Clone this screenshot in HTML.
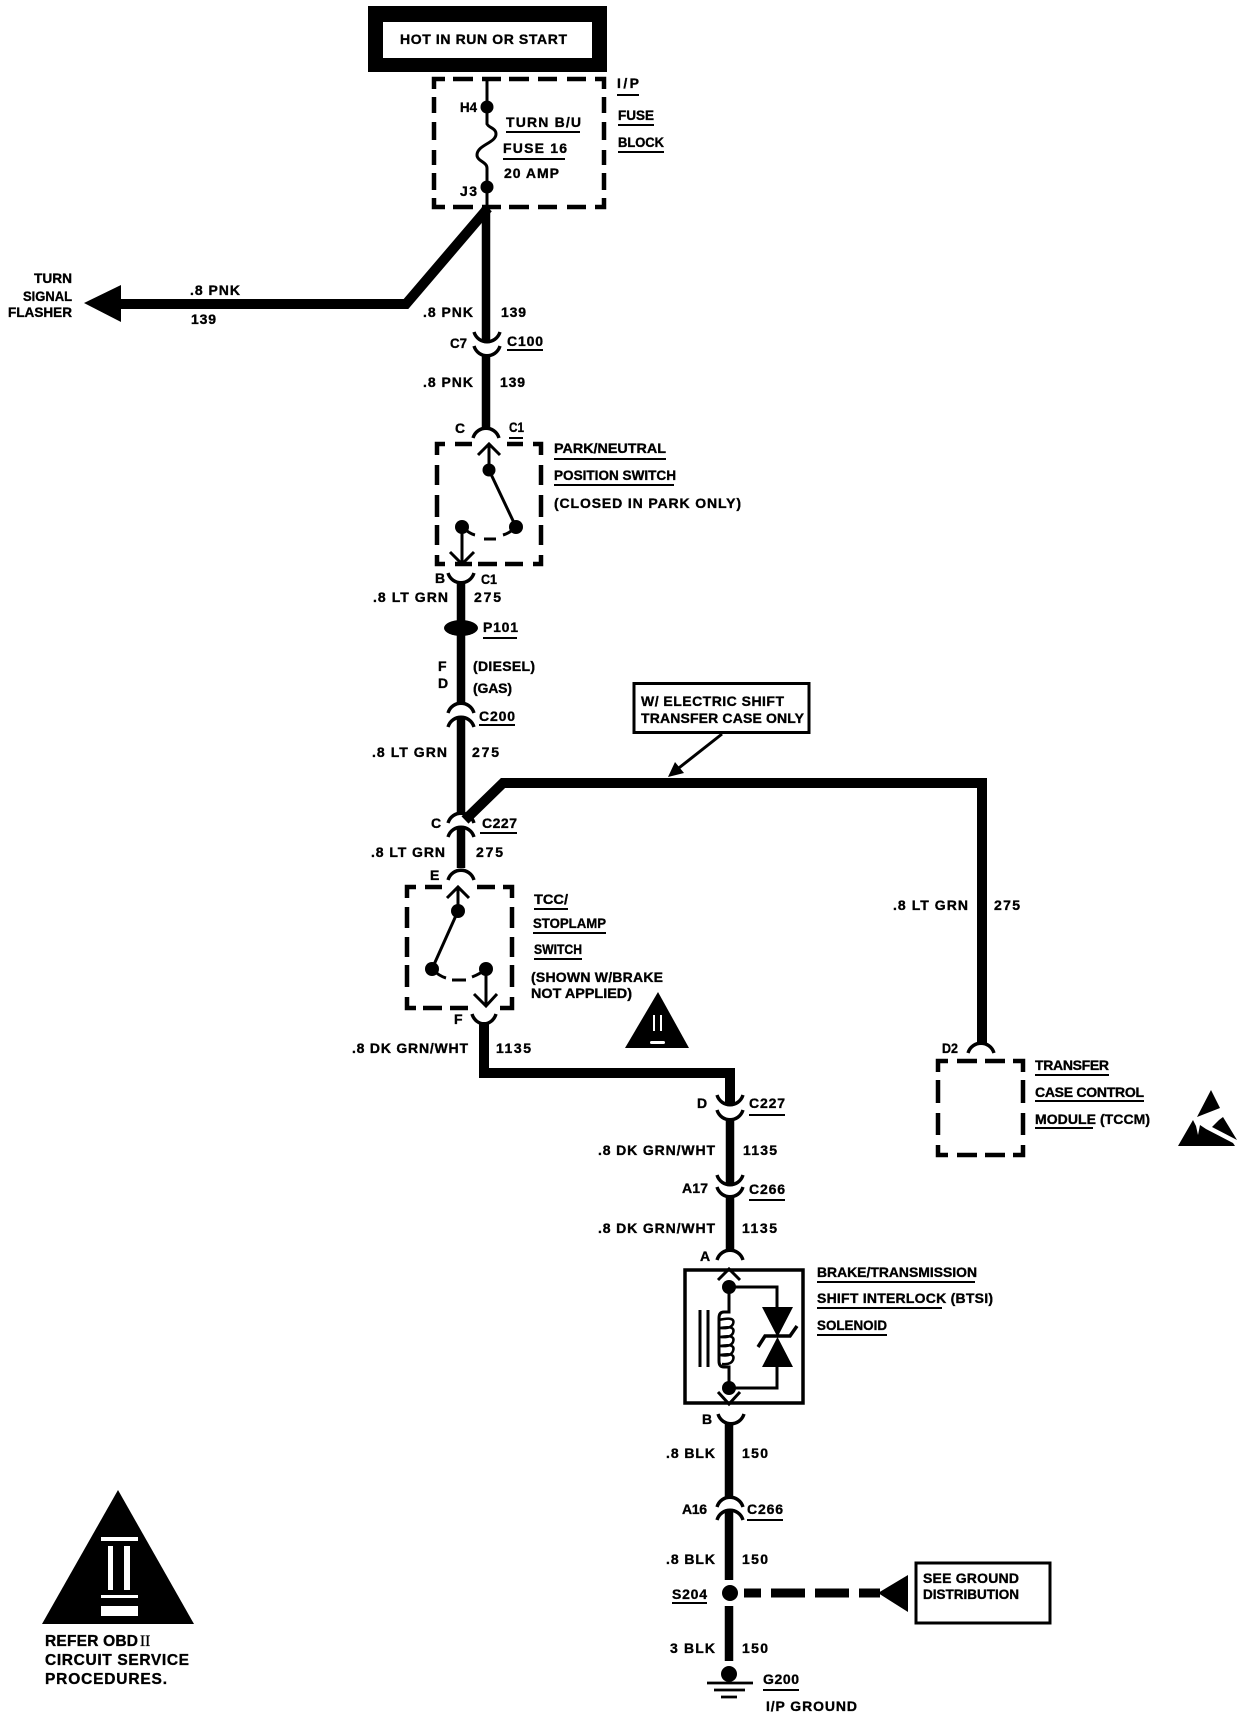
<!DOCTYPE html>
<html><head><meta charset="utf-8"><style>
html,body{margin:0;padding:0;background:#fff}
svg{display:block}
text{font-family:"Liberation Sans",sans-serif;font-weight:700;font-size:14px;fill:#000;stroke:#000;stroke-width:.35px}
</style></head><body>
<svg width="1248" height="1720" viewBox="0 0 1248 1720" xmlns="http://www.w3.org/2000/svg">
<rect width="1248" height="1720" fill="#fff"/>
<!-- top box -->
<rect x="368" y="6" width="239" height="66" fill="#000"/>
<rect x="383" y="22" width="209" height="36" fill="#fff"/>

<!-- dashed boxes -->
<g fill="none" stroke="#000" stroke-width="4.5">
<path d="M434 89V79H445M453 79H473M482 79H501M509 79H529M538 79H557M567 79H586M595 79H604V89M604 97V113M604 122V140M604 150V165M604 173V190M604 198V207H595M586 207H567M557 207H538M529 207H509M501 207H482M473 207H453M445 207H434V198M434 173V190M434 150V165M434 122V140M434 97V113"/>
<path d="M437 455V444H445M455 444H472M507 444H523M533 444H541V455M541 465V485M541 495V517M541 525V545M541 555V564H533M523 564H505M497 564H478M472 564H455M445 564H437V555M437 525V545M437 495V517M437 465V485"/>
<path d="M407 898V887H416M425 887H442M477 887H495M503 887H512V898M512 907V928M512 937V957M512 965V987M512 997V1008H500M468 1008H450M442 1008H423M416 1008H407V997M407 965V987M407 937V957M407 907V928"/>
<path d="M938 1072V1061H948M957 1061H977M985 1061H1005M1013 1061H1023V1072M1023 1080V1103M1023 1113V1135M1023 1145V1155H1013M1005 1155H985M977 1155H957M948 1155H938V1145M938 1113V1135M938 1080V1103"/>
</g>

<!-- heavy wires -->
<g fill="none" stroke="#000" stroke-linejoin="miter">
<path stroke-width="8.5" d="M486 207V342M486 356V428M461 583V703M461 717V813M461 827V868M730 1119V1185M730 1197V1250M729 1423V1497M729 1510V1580M729 1606V1661"/>
<path stroke-width="10" d="M488 208L406 304H121"/>
<path stroke-width="10" d="M465 820L503 783H982V1043"/>
<path stroke-width="10" d="M484 1023V1073H730V1104"/>
</g>

<!-- connector cups -->
<g fill="none" stroke="#000" stroke-width="3.4">
<path d="M474 332C478 345 496 345 500 332M474 346C478 359 496 359 500 346"/>
<path d="M473 438C477 425 495 425 499 438"/>
<path d="M448 573C452 586 470 586 474 573"/>
<path d="M448 713C452 700 470 700 474 713M448 727C452 714 470 714 474 727"/>
<path d="M448 823C452 810 470 810 474 823M448 837C452 824 470 824 474 837"/>
<path d="M448 880C452 867 470 867 474 880"/>
<path d="M472 1014C476 1027 492 1027 496 1014"/>
<path d="M717 1095C721 1108 739 1108 743 1095M717 1110C721 1123 739 1123 743 1110"/>
<path d="M717 1175C721 1188 739 1188 743 1175M717 1187C721 1200 739 1200 743 1187"/>
<path d="M717 1260C721 1247 739 1247 743 1260"/>
<path d="M718 1414C722 1427 740 1427 744 1414"/>
<path d="M717 1507C721 1494 739 1494 743 1507M717 1520C721 1507 739 1507 743 1520"/>
<path d="M968 1053C972 1040 990 1040 994 1053"/>
</g>

<!-- thin lines, switches -->
<g fill="none" stroke="#000" stroke-width="3">
<path d="M487 79V124C489 128 496 128 496 134C496 143 477 145 477 155C477 161 487 162 487 168V207"/>
<path d="M489 444V470M489 470L516 527M462 527V564M478 455L489 444L500 455M450 552L462 564L474 552"/>
<path d="M462 527Q470 534 475 535M484 539H496M503 535Q510 533 516 527"/>
<path d="M458 887V911M458 911L432 969M486 969V1006M447 898L458 887L469 898M474 994L486 1006L497 994"/>
<path d="M432 969Q439 976 446 978M452 980H466M472 977Q480 974 486 969"/>
<path d="M718 1280L729 1269L740 1280M718 1392L729 1404L740 1392"/>
<path d="M729 1287H777V1310M777 1365V1388H729M729 1287V1312H724Q719 1312 719 1318V1361Q719 1367 724 1367H729V1388"/>
<path d="M719 1320Q736 1316 733 1324Q731 1329 720 1328Q736 1325 733 1333Q731 1338 720 1337Q736 1334 733 1342Q731 1347 720 1346Q736 1343 733 1351Q731 1357 720 1355Q736 1352 733 1360Q731 1365 722 1364" stroke-width="2.5"/>
<path d="M700 1310V1367M708 1310V1367"/>
<path d="M758 1347L765 1336H790L797 1326" stroke-width="3.5"/>
</g>
<polygon points="762,1307 793,1307 777.500,1337 793,1367 762,1367 777.500,1337"/>
<g>
<circle cx="487" cy="107" r="6.500"/><circle cx="487" cy="187" r="6.500"/>
<circle cx="489" cy="470" r="6.500"/><circle cx="516" cy="527" r="7"/><circle cx="462" cy="527" r="7"/>
<circle cx="458" cy="911" r="7"/><circle cx="432" cy="969" r="7"/><circle cx="486" cy="969" r="7"/>
<circle cx="729" cy="1287" r="7"/><circle cx="729" cy="1388" r="7"/>
<circle cx="730" cy="1593" r="8"/><circle cx="729" cy="1674" r="8"/>
<ellipse cx="461" cy="628" rx="17" ry="8"/>
</g>
<!-- arrows -->
<polygon points="84,303 121,285 121,322"/>
<polygon points="878,1593 908,1575 908,1612"/>
<path d="M722 734L675 771" stroke="#000" stroke-width="3" fill="none"/>
<polygon points="668,777 675,762 684,773"/>

<!-- callouts, BTSI box -->
<rect x="634" y="683.500" width="175" height="49" fill="none" stroke="#000" stroke-width="3"/>
<rect x="685" y="1270" width="118" height="133" fill="none" stroke="#000" stroke-width="3.5"/>
<rect x="916" y="1563" width="134" height="60" fill="none" stroke="#000" stroke-width="3"/>
<path d="M744 1593H761M771 1593H805M815 1593H849M859 1593H880" stroke="#000" stroke-width="9" fill="none"/>

<!-- ground -->
<path d="M707 1683H753M714 1690H745M721 1697H737" stroke="#000" stroke-width="2.800" fill="none"/>

<!-- triangles -->
<polygon points="658,992 625,1048 689,1048"/>
<rect x="653" y="1015" width="2" height="16" fill="#fff"/><rect x="660" y="1015" width="2" height="16" fill="#fff"/>
<rect x="650" y="1041" width="15" height="3" rx="1.500" fill="#fff"/>
<polygon points="118,1490 42,1624 194,1624"/>
<g fill="#fff">
<rect x="101" y="1537" width="37" height="4"/><rect x="108" y="1546" width="5" height="44"/><rect x="124" y="1546" width="6" height="44"/>
<rect x="101" y="1595" width="37" height="3"/><rect x="101" y="1606" width="37" height="10"/>
</g>
<!-- ESD -->
<polygon points="1211,1090 1220,1108 1197,1117"/>
<polygon points="1223,1117 1237,1140 1212,1127 1219,1120"/>
<polygon points="1193,1120 1178,1146 1235,1146 1233,1143 1206,1129 1200,1125 1198,1135 1196,1126"/>

<!-- underlines -->
<path stroke="#000" stroke-width="2" fill="none" d="M506 132H580M503 159H565M617 95H639M618 125H654M618 152H664M507 350H543M509 438H523M554 459H666M554 485H674M483 638H517M479 725H515M480 833H517M534 909H568M533 933H606M534 959H582M749 1115H785M749 1200H785M1035 1075H1109M1035 1101H1144M1035 1128H1093M817 1282H975M817 1308H942M817 1335H887M747 1520H783M672 1603H707M763 1690H799"/>

<!-- text -->
<text x="400" y="44" textLength="167" font-size="14">HOT IN RUN OR START</text>
<text x="460" y="112" textLength="17" lengthAdjust="spacingAndGlyphs">H4</text>
<text x="460" y="196" textLength="17">J3</text>
<text x="506" y="127" textLength="75">TURN B/U</text>
<text x="503" y="153" textLength="64">FUSE 16</text>
<text x="504" y="178" textLength="55">20 AMP</text>
<text x="617" y="88" textLength="22">I/P</text>
<text x="618" y="120" textLength="36" lengthAdjust="spacingAndGlyphs">FUSE</text>
<text x="618" y="147" textLength="46" lengthAdjust="spacingAndGlyphs">BLOCK</text>
<text x="34" y="283" textLength="38" lengthAdjust="spacingAndGlyphs">TURN</text>
<text x="23" y="301" textLength="49" lengthAdjust="spacingAndGlyphs">SIGNAL</text>
<text x="8" y="317" textLength="64" lengthAdjust="spacingAndGlyphs">FLASHER</text>
<text x="190" y="295" textLength="50">.8 PNK</text>
<text x="191" y="324" textLength="25">139</text>
<text x="423" y="317" textLength="50">.8 PNK</text>
<text x="501" y="317" textLength="25">139</text>
<text x="450" y="348" textLength="17" lengthAdjust="spacingAndGlyphs">C7</text>
<text x="507" y="346" textLength="36">C100</text>
<text x="423" y="387" textLength="50">.8 PNK</text>
<text x="500" y="387" textLength="25">139</text>
<text x="455" y="433" textLength="10" lengthAdjust="spacingAndGlyphs">C</text>
<text x="509" y="432" textLength="15" lengthAdjust="spacingAndGlyphs">C1</text>
<text x="554" y="453" textLength="112" lengthAdjust="spacingAndGlyphs">PARK/NEUTRAL</text>
<text x="554" y="480" textLength="122" lengthAdjust="spacingAndGlyphs">POSITION SWITCH</text>
<text x="554" y="508" textLength="187">(CLOSED IN PARK ONLY)</text>
<text x="435" y="583" textLength="10">B</text>
<text x="481" y="584" textLength="16" lengthAdjust="spacingAndGlyphs">C1</text>
<text x="373" y="602" textLength="75">.8 LT GRN</text>
<text x="474" y="602" textLength="27">275</text>
<text x="483" y="632" textLength="35">P101</text>
<text x="438" y="671" textLength="9">F</text>
<text x="438" y="688" textLength="10">D</text>
<text x="473" y="671" textLength="62">(DIESEL)</text>
<text x="473" y="693" textLength="39">(GAS)</text>
<text x="479" y="721" textLength="36">C200</text>
<text x="372" y="757" textLength="75">.8 LT GRN</text>
<text x="472" y="757" textLength="27">275</text>
<text x="431" y="828" textLength="10">C</text>
<text x="482" y="828" textLength="35">C227</text>
<text x="371" y="857" textLength="74">.8 LT GRN</text>
<text x="476" y="857" textLength="27">275</text>
<text x="430" y="880" textLength="10">E</text>
<text x="534" y="904" textLength="34" lengthAdjust="spacingAndGlyphs">TCC/</text>
<text x="533" y="928" textLength="73" lengthAdjust="spacingAndGlyphs">STOPLAMP</text>
<text x="534" y="954" textLength="48" lengthAdjust="spacingAndGlyphs">SWITCH</text>
<text x="531" y="982" textLength="132">(SHOWN W/BRAKE</text>
<text x="531" y="998" textLength="101" lengthAdjust="spacingAndGlyphs">NOT APPLIED)</text>
<text x="454" y="1024" textLength="9">F</text>
<text x="352" y="1053" textLength="116">.8 DK GRN/WHT</text>
<text x="496" y="1053" textLength="35">1135</text>
<text x="697" y="1108" textLength="10">D</text>
<text x="749" y="1108" textLength="36">C227</text>
<text x="598" y="1155" textLength="117">.8 DK GRN/WHT</text>
<text x="743" y="1155" textLength="34">1135</text>
<text x="682" y="1193" textLength="26">A17</text>
<text x="749" y="1194" textLength="36">C266</text>
<text x="598" y="1233" textLength="117">.8 DK GRN/WHT</text>
<text x="742" y="1233" textLength="35">1135</text>
<text x="700" y="1261" textLength="10">A</text>
<text x="817" y="1277" textLength="160" lengthAdjust="spacingAndGlyphs">BRAKE/TRANSMISSION</text>
<text x="817" y="1303" textLength="176">SHIFT INTERLOCK (BTSI)</text>
<text x="817" y="1330" textLength="70" lengthAdjust="spacingAndGlyphs">SOLENOID</text>
<text x="702" y="1424" textLength="10">B</text>
<text x="666" y="1458" textLength="49">.8 BLK</text>
<text x="742" y="1458" textLength="26">150</text>
<text x="682" y="1514" textLength="25">A16</text>
<text x="747" y="1514" textLength="36">C266</text>
<text x="666" y="1564" textLength="49">.8 BLK</text>
<text x="742" y="1564" textLength="26">150</text>
<text x="672" y="1599" textLength="35">S204</text>
<text x="670" y="1653" textLength="45">3 BLK</text>
<text x="742" y="1653" textLength="26">150</text>
<text x="763" y="1684" textLength="36">G200</text>
<text x="766" y="1711" textLength="91">I/P GROUND</text>
<text x="923" y="1583" textLength="96">SEE GROUND</text>
<text x="923" y="1599" textLength="96" lengthAdjust="spacingAndGlyphs">DISTRIBUTION</text>
<text x="641" y="706" textLength="143">W/ ELECTRIC SHIFT</text>
<text x="641" y="723" textLength="163">TRANSFER CASE ONLY</text>
<text x="893" y="910" textLength="75">.8 LT GRN</text>
<text x="994" y="910" textLength="26">275</text>
<text x="942" y="1053" textLength="16" lengthAdjust="spacingAndGlyphs">D2</text>
<text x="1035" y="1070" textLength="74">TRANSFER</text>
<text x="1035" y="1097" textLength="109">CASE CONTROL</text>
<text x="1035" y="1124" textLength="115">MODULE (TCCM)</text>
<text x="45" y="1646" style="font-size:15.5px" textLength="93">REFER  OBD</text>
<text x="140" y="1646" style="font-family:'Liberation Serif',serif;font-weight:400;font-size:15.5px">II</text>
<text x="45" y="1665" style="font-size:15.5px" textLength="144">CIRCUIT SERVICE</text>
<text x="45" y="1684" style="font-size:15.5px" textLength="122">PROCEDURES.</text>
</svg>
</body></html>
